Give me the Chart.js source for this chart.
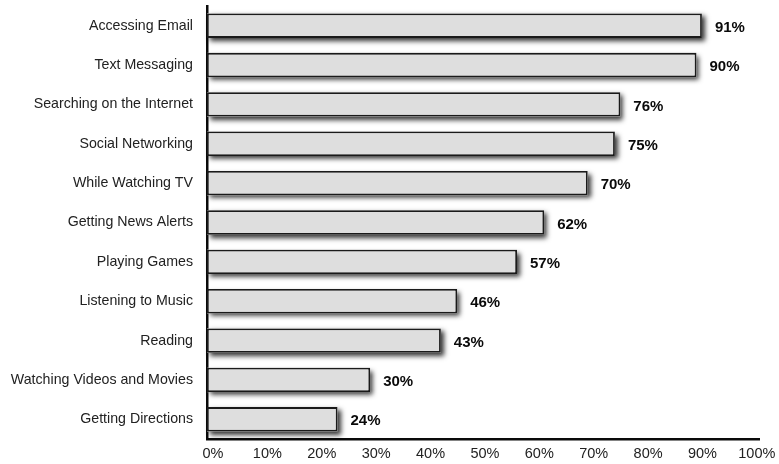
<!DOCTYPE html>
<html><head><meta charset="utf-8">
<script src="https://cdn.jsdelivr.net/npm/chart.js@4/dist/chart.umd.min.js"></script>
<style>html,body{margin:0;padding:0;background:#fff;}#wrap{width:779px;height:464px;}</style>
</head><body><div id="wrap"><canvas id="c"></canvas></div>
<script>
const categories = ["Accessing Email","Text Messaging","Searching on the Internet","Social Networking","While Watching TV","Getting News Alerts","Playing Games","Listening to Music","Reading","Watching Videos and Movies","Getting Directions"];
const values = [91,90,76,75,70,62,57,46,43,30,24];
const tickValues = [0,10,20,30,40,50,60,70,80,90,100];

const FONT = '"Liberation Sans", Arial, Helvetica, sans-serif';

const shadowPlugin = {
  id:'shadow',
  beforeDatasetsDraw(chart){
    const c=chart.ctx; const meta=chart.getDatasetMeta(0);
    c.save();
    c.shadowColor='rgba(0,0,0,0.8)'; c.shadowBlur=5; c.shadowOffsetX=3; c.shadowOffsetY=3;
    c.fillStyle='#dedede';
    meta.data.forEach(b=>{
      const p=b.getProps(['x','y','base','height'],true);
      c.fillRect(p.base, p.y-p.height/2, p.x-p.base, p.height);
    });
    c.restore();
  }
};
const labelPlugin = {
  id:'vlabels',
  afterDatasetsDraw(chart){
    const c=chart.ctx; const meta=chart.getDatasetMeta(0);
    c.save(); c.font='bold 15px '+FONT; c.fillStyle='#0a0a0a'; c.textBaseline='middle'; c.textAlign='left';
    meta.data.forEach((b,i)=>{ c.fillText(values[i]+'%', b.x+13, b.y+2); });
    c.restore();
  }
};
new Chart(document.getElementById('c'),{
  type:'bar',
  data:{labels:categories,datasets:[{data:values,backgroundColor:'#dedede',borderColor:'#1a1a1a',borderWidth:1.8,borderSkipped:false,categoryPercentage:0.62,barPercentage:1}]},
  options:{
    indexAxis:'y',responsive:true,maintainAspectRatio:false,animation:false,
    layout:{padding:{top:6,right:20,left:0,bottom:0}},
    plugins:{legend:{display:false},tooltip:{enabled:false}},
    scales:{
      x:{min:0,max:101.5,
        afterBuildTicks(s){ s.ticks = tickValues.map(v=>({value:v})); },
        afterFit(s){ s.height=25; },
        grid:{display:false,drawTicks:false},
        border:{display:true,color:'#0a0a0a',width:2.5},
        ticks:{padding:6,labelOffset:6,color:'#222',font:{family:FONT,size:14.5},callback:v=>v+'%',maxRotation:0,autoSkip:false}
      },
      y:{grid:{display:false,drawTicks:false},
        border:{display:true,color:'#0a0a0a',width:2.5},
        afterFit(s){ s.width=207; s.paddingTop=0; s.paddingBottom=0; },
        ticks:{padding:14,color:'#222',font:{family:FONT,size:14.2}}
      }
    }
  },
  plugins:[shadowPlugin,labelPlugin]
});
</script></body></html>
